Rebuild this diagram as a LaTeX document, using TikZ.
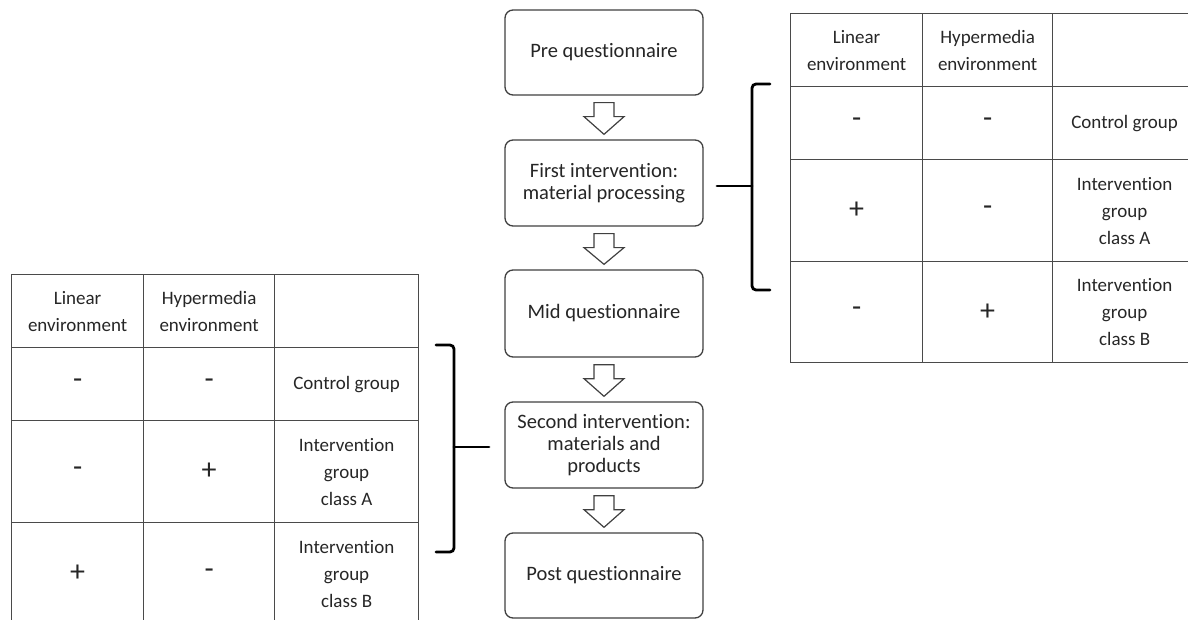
\documentclass[tikz,border=0pt]{standalone}
\usepackage{fontspec}
\setmainfont{Carlito}[Ligatures={NoCommon}]
\usetikzlibrary{calc}
\definecolor{ink}{HTML}{262626}
\definecolor{edge}{HTML}{404040}
\definecolor{rule}{HTML}{4A4A4A}
\tikzset{
  stagebox/.style={draw=edge, line width=1.3pt, rounded corners=8pt, fill=white,
    minimum width=198pt, minimum height=86pt, inner sep=0pt, align=center,
    text=ink, font=\fontsize{20.5}{22}\selectfont},
  blockarrow/.style={draw=edge, line width=1.2pt, fill=white, line join=miter},
  cell/.style={draw=rule, line width=1.2pt, anchor=north west, inner sep=0pt,
    align=center, text=ink, font=\fontsize{19}{27}\selectfont},
  signcell/.style={cell, font=\fontsize{30}{27}\selectfont},
  brace/.style={draw=black, line width=2.8pt, rounded corners=4pt, line cap=round}
}
\begin{document}
\begin{tikzpicture}[x=1pt,y=-1pt]
\useasboundingbox (0,0) rectangle (1188,620);
\begin{scope}
\clip (0,0) rectangle (1188,620);
% flow chart
\node[stagebox, minimum height=85pt] (b1) at (604,52.5) {Pre questionnaire};
\node[stagebox] (b2) at (604,183) {First intervention:\\material processing};
\node[stagebox, minimum height=87pt] (b3) at (604,313.5) {Mid questionnaire};
\node[stagebox] (b4) at (604,445) {Second intervention:\\materials and\\products};
\node[stagebox, minimum height=85pt] (b5) at (604,575.5) {Post questionnaire};
\foreach \a/\b in {b1/b2,b2/b3,b3/b4,b4/b5}{
  \draw[blockarrow] ($(\a.south)+(-10,7)$) -- ($(\a.south)+(-10,21)$)
    -- ($(\a.south)+(-20,21)$) -- ($(\b.north)+(0,-5)$)
    -- ($(\a.south)+(20,21)$) -- ($(\a.south)+(10,21)$)
    -- ($(\a.south)+(10,7)$) -- cycle;
}
% right table
\node[cell, minimum width=132pt, minimum height=73pt] (r11) at (790,13) {Linear\\environment};
\node[cell, minimum width=130pt, minimum height=73pt] (r12) at (922,13) {Hypermedia\\environment};
\node[cell, minimum width=144pt, minimum height=73pt] (r13) at (1052,13) {};
\node[signcell, minimum width=132pt, minimum height=73pt] (r21) at (790,86) {-};
\node[signcell, minimum width=130pt, minimum height=73pt] (r22) at (922,86) {-};
\node[cell, minimum width=144pt, minimum height=73pt] (r23) at (1052,86) {Control group};
\node[signcell, minimum width=132pt, minimum height=102pt] (r31) at (790,159) {+};
\node[signcell, minimum width=130pt, minimum height=102pt] (r32) at (922,159) {-};
\node[cell, minimum width=144pt, minimum height=102pt] (r33) at (1052,159) {Intervention\\group\\class A};
\node[signcell, minimum width=132pt, minimum height=101pt] (r41) at (790,261) {-};
\node[signcell, minimum width=130pt, minimum height=101pt] (r42) at (922,261) {+};
\node[cell, minimum width=144pt, minimum height=101pt] (r43) at (1052,261) {Intervention\\group\\class B};
% left table
\node[cell, minimum width=132pt, minimum height=73pt] (l11) at (11,274) {Linear\\environment};
\node[cell, minimum width=131pt, minimum height=73pt] (l12) at (143,274) {Hypermedia\\environment};
\node[cell, minimum width=144pt, minimum height=73pt] (l13) at (274,274) {};
\node[signcell, minimum width=132pt, minimum height=73pt] (l21) at (11,347) {-};
\node[signcell, minimum width=131pt, minimum height=73pt] (l22) at (143,347) {-};
\node[cell, minimum width=144pt, minimum height=73pt] (l23) at (274,347) {Control group};
\node[signcell, minimum width=132pt, minimum height=102pt] (l31) at (11,420) {-};
\node[signcell, minimum width=131pt, minimum height=102pt] (l32) at (143,420) {+};
\node[cell, minimum width=144pt, minimum height=102pt] (l33) at (274,420) {Intervention\\group\\class A};
\node[signcell, minimum width=132pt, minimum height=102pt] (l41) at (11,522) {+};
\node[signcell, minimum width=131pt, minimum height=102pt] (l42) at (143,522) {-};
\node[cell, minimum width=144pt, minimum height=102pt] (l43) at (274,522) {Intervention\\group\\class B};
% braces
\coordinate (rtip) at (717,186);
\draw[brace] (770,84) -| (752,290) -- (770,290);
\draw[brace, rounded corners=0pt] (752,186) -- (rtip);
\coordinate (ltip) at (489,447);
\draw[brace] (436,345) -| (454,552) -- (436,552);
\draw[brace, rounded corners=0pt] (454,447) -- (ltip);
\end{scope}
\end{tikzpicture}
\end{document}
